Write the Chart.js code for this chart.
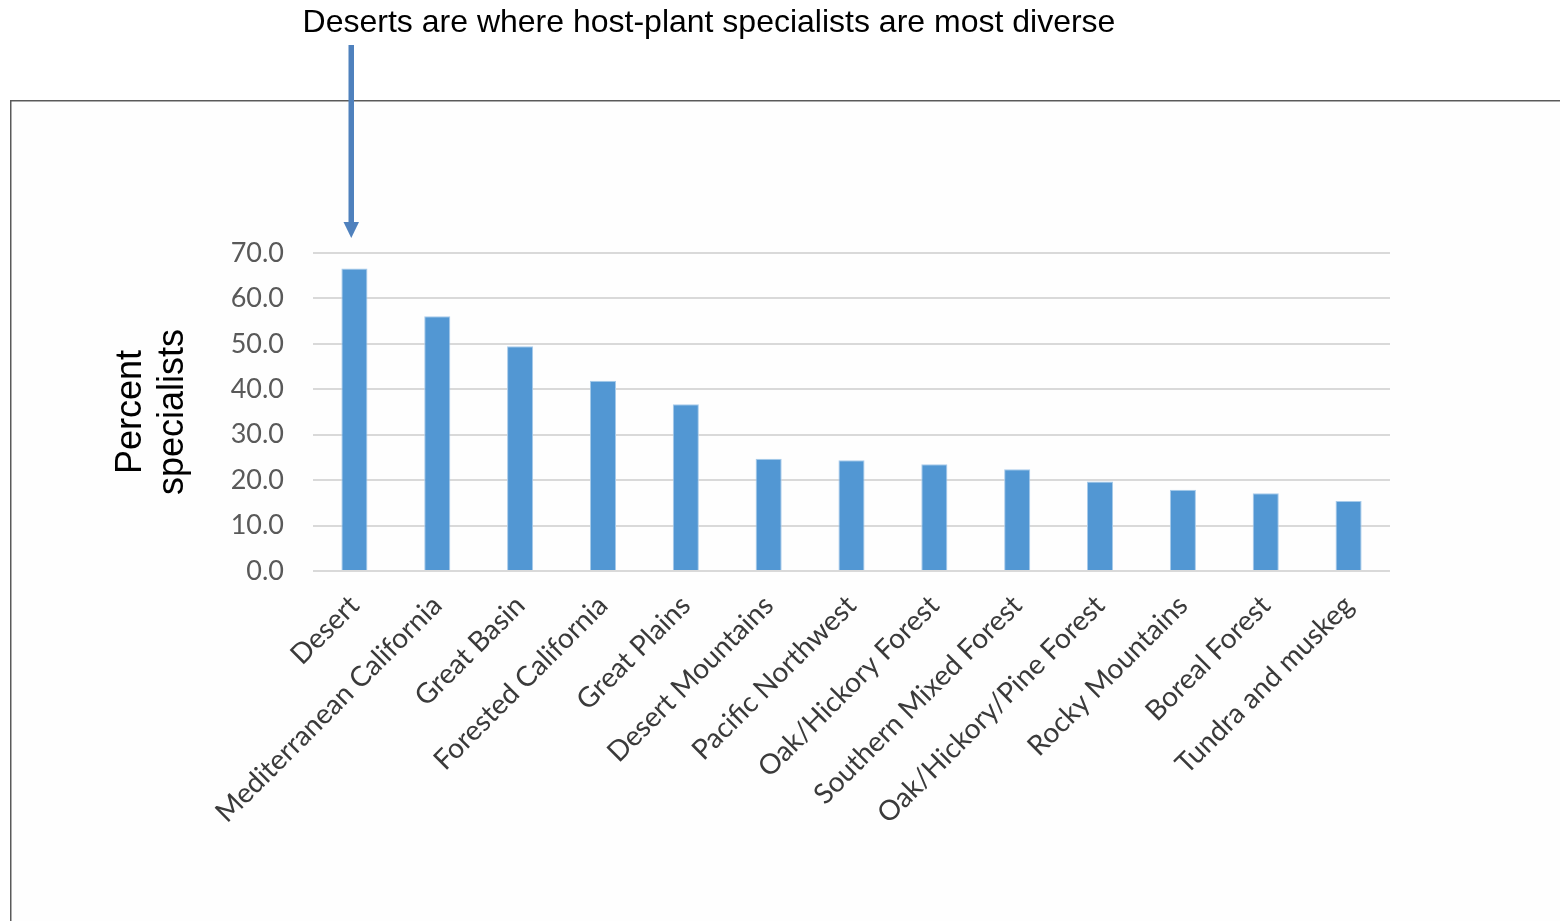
<!DOCTYPE html>
<html>
<head>
<meta charset="utf-8">
<script src="https://cdn.jsdelivr.net/npm/chart.js@4/dist/chart.umd.min.js"></script>
<style>
  html, body { margin: 0; padding: 0; background: #ffffff; }
  #wrap { position: relative; width: 1560px; height: 921px; }
</style>
</head>
<body>
<div id="wrap"><canvas id="myChart" width="1560" height="921"></canvas></div>
<script>
const regions = ['Desert', 'Mediterranean California', 'Great Basin', 'Forested California',
  'Great Plains', 'Desert Mountains', 'Pacific Northwest', 'Oak/Hickory Forest',
  'Southern Mixed Forest', 'Oak/Hickory/Pine Forest', 'Rocky Mountains', 'Boreal Forest',
  'Tundra and muskeg'];
const percentSpecialists = [66.6, 56.1, 49.5, 41.9, 36.7, 24.7, 24.4, 23.5, 22.4, 19.7, 17.9, 17.1, 15.4];
const yTicks = [0, 10, 20, 30, 40, 50, 60, 70];
const headline = 'Deserts are where host-plant specialists are most diverse';
const yTitle = ['Percent', 'specialists'];

// box, headline, arrow and rotated axis title
const decorations = {
  id: 'decorations',
  beforeDraw(chart) {
    const c = chart.ctx;
    c.save();
    c.fillStyle = '#fefefe';
    c.fillRect(11, 101, 1560, 921);
    c.strokeStyle = '#5a5a5a';
    c.lineWidth = 1.5;
    c.beginPath();
    c.moveTo(10.75, 925);
    c.lineTo(10.75, 100.75);
    c.lineTo(1565, 100.75);
    c.stroke();
    c.restore();
  },
  afterDraw(chart) {
    const c = chart.ctx;
    const area = chart.chartArea;
    c.save();
    c.fillStyle = '#000000';
    c.font = '32px "Liberation Sans", Arial, sans-serif';
    c.textAlign = 'center';
    c.textBaseline = 'alphabetic';
    c.fillText(headline, 709, 32);

    // arrow pointing at the Desert bar
    c.fillStyle = '#4f81bd';
    c.fillRect(348.5, 45, 5.5, 180);
    c.beginPath();
    c.moveTo(343.5, 222);
    c.lineTo(359, 222);
    c.lineTo(351.25, 238);
    c.closePath();
    c.fill();

    c.fillStyle = '#000000';
    c.font = '36px "Liberation Sans", Arial, sans-serif';
    c.textBaseline = 'middle';
    c.translate(0, (area.top + area.bottom) / 2);
    c.rotate(-Math.PI / 2);
    c.fillText(yTitle[0], 0, 131);
    c.fillText(yTitle[1], 0, 173);
    c.restore();
  }
};

const ctx = document.getElementById('myChart');

new Chart(ctx, {
  type: 'bar',
  data: {
    labels: regions,
    datasets: [{
      label: 'Percent specialists',
      data: percentSpecialists,
      backgroundColor: '#5297d3',
      borderColor: '#a8cbea',
      borderWidth: 1,
      categoryPercentage: 1,
      barPercentage: 0.315
    }]
  },
  options: {
    responsive: false,
    animation: false,
    layout: { padding: { top: 253, right: 170, left: 0, bottom: 0 } },
    plugins: {
      legend: { display: false },
      tooltip: { enabled: false }
    },
    scales: {
      x: {
        afterFit: s => { s.height = 350; },
        grid: { display: false },
        border: { display: false },
        ticks: {
          minRotation: 45,
          maxRotation: 45,
          autoSkip: false,
          padding: 10,
          color: '#3a3a3a',
          font: { family: 'Lato', size: 28 }
        }
      },
      y: {
        min: 0,
        max: 70,
        afterFit: s => { s.width = 313; },
        afterBuildTicks: s => { s.ticks = yTicks.map(v => ({ value: v })); },
        border: { display: false },
        grid: { color: '#d9d9d9', lineWidth: 2, drawTicks: false },
        ticks: {
          padding: 29,
          color: '#595959',
          font: { family: 'Lato', size: 27 },
          callback: v => v.toFixed(1)
        }
      }
    }
  },
  plugins: [decorations]
});
</script>
</body>
</html>
